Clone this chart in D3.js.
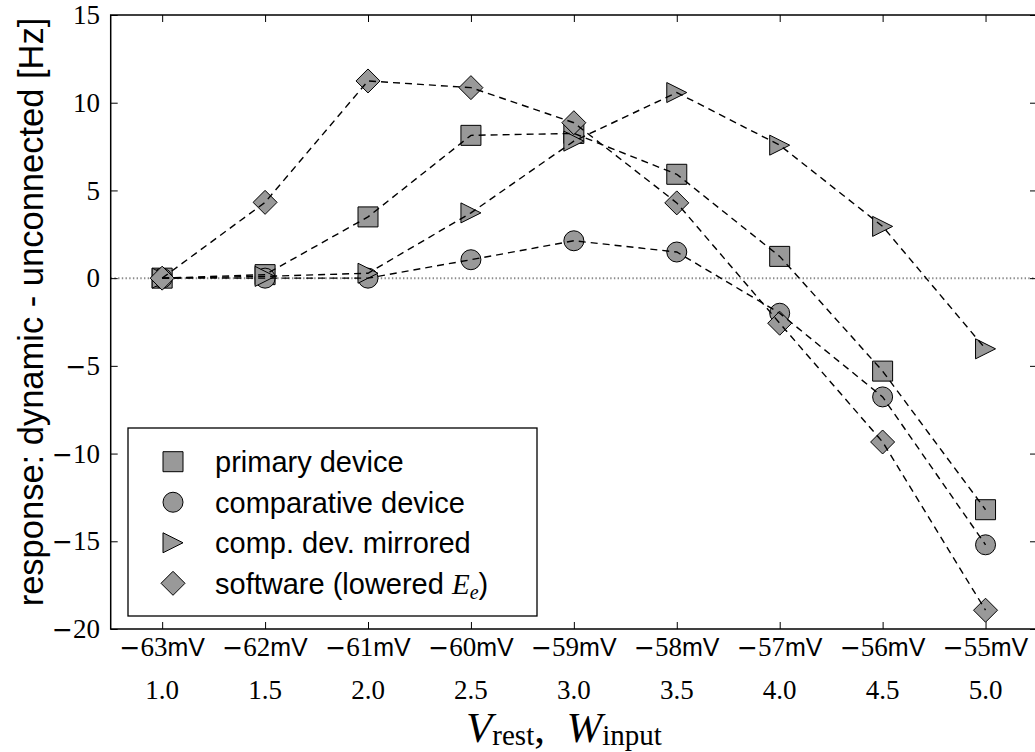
<!DOCTYPE html>
<html>
<head>
<meta charset="utf-8">
<script src="https://cdn.jsdelivr.net/npm/d3@7"></script>
<style>
  html, body { margin: 0; padding: 0; background: #fff; }
  svg { display: block; }
</style>
</head>
<body>
<svg id="chart" width="1035" height="752"></svg>
<script>
// Input weight and resting potential for each measurement point
const wInput = [1.0, 1.5, 2.0, 2.5, 3.0, 3.5, 4.0, 4.5, 5.0];
const vRest = [-63, -62, -61, -60, -59, -58, -57, -56, -55];
const wInputLabels = ["1.0", "1.5", "2.0", "2.5", "3.0", "3.5", "4.0", "4.5", "5.0"];
const yTicks = [-20, -15, -10, -5, 0, 5, 10, 15];

// Response difference (dynamic - unconnected) in Hz
const primaryDevice     = [0, 0.2, 3.49, 8.14, 8.25, 5.92, 1.24, -5.3, -13.2];
const comparativeDevice = [0, 0.0, 0.0, 1.05, 2.13, 1.49, -2.0, -6.77, -15.2];
const compDevMirrored   = [0, 0.1, 0.28, 3.72, 7.81, 10.58, 7.58, 2.95, -4.03];
const softwareLowered   = [0, 4.32, 11.24, 10.86, 8.86, 4.29, -2.57, -9.34, -18.93];

const seriesNames = ["primary device", "comparative device", "comp. dev. mirrored", "software"];
const seriesValues = [primaryDevice, comparativeDevice, compDevMirrored, softwareLowered];
const seriesShapes = ["square", "circle", "triangle", "diamond"];

const svg = d3.select("#chart");
const plotLeft = 110.7, plotRight = 1037, plotTop = 15, plotBottom = 629;

const x = d3.scaleLinear().domain([0.75, 5.25]).range([plotLeft, plotRight]);
const y = d3.scaleLinear().domain([-20, 15]).range([plotBottom, plotTop]);

const serif = "'Liberation Serif', 'Times New Roman', serif";
const minusFont = "'DejaVu Sans', sans-serif";
const sans = "'Liberation Sans', Arial, Helvetica, sans-serif";
const markerFill = "#999999";

function markerPath(shape) {
  switch (shape) {
    case "square": return "M-10,-10H10V10H-10Z";
    case "circle": return "M10,0A10,10 0 1,1 -10,0A10,10 0 1,1 10,0Z";
    case "triangle": return "M10,0L-10,-10L-10,10Z";
    case "diamond": return "M0,-12L12,0L0,12L-12,0Z";
  }
}

// zero reference line
svg.append("line")
  .attr("x1", plotLeft).attr("x2", plotRight)
  .attr("y1", y(0)).attr("y2", y(0))
  .attr("stroke", "#8c8c8c").attr("stroke-width", 2)
  .attr("stroke-dasharray", "1.4,2.3");

// markers
const plot = svg.append("g");
seriesValues.forEach((vals, i) => {
  plot.append("g").selectAll("path")
    .data(vals.map((v, j) => [wInput[j], v]))
    .join("path")
    .attr("transform", d => `translate(${x(d[0])},${y(d[1])})`)
    .attr("d", markerPath(seriesShapes[i]))
    .attr("fill", markerFill)
    .attr("stroke", "#000").attr("stroke-width", 1);
});

// dashed connecting lines drawn above the markers
const line = d3.line().x(d => x(d[0])).y(d => y(d[1]));
seriesValues.forEach(vals => {
  plot.append("path")
    .datum(vals.map((v, j) => [wInput[j], v]))
    .attr("d", line)
    .attr("fill", "none")
    .attr("stroke", "#000").attr("stroke-width", 1.4)
    .attr("stroke-dasharray", "7,5");
});

// axes frame
svg.append("rect")
  .attr("x", plotLeft).attr("y", plotTop)
  .attr("width", plotRight - plotLeft).attr("height", plotBottom - plotTop)
  .attr("fill", "none").attr("stroke", "#000").attr("stroke-width", 1.5);

const tickLen = 7;
const axBottom = d3.axisBottom(x).tickValues(wInput).tickSize(-tickLen).tickFormat("");
const axTop = d3.axisTop(x).tickValues(wInput).tickSize(-tickLen).tickFormat("");
const axLeft = d3.axisLeft(y).tickValues(yTicks).tickSize(-tickLen).tickFormat("");
const axRight = d3.axisRight(y).tickValues(yTicks).tickSize(-tickLen).tickFormat("");
[[axBottom, `translate(0,${plotBottom})`], [axTop, `translate(0,${plotTop})`],
 [axLeft, `translate(${plotLeft},0)`], [axRight, `translate(${plotRight},0)`]].forEach(([ax, tr]) => {
  const g = svg.append("g").attr("transform", tr).call(ax);
  g.select(".domain").remove();
  g.selectAll(".tick line").attr("stroke", "#000").attr("stroke-width", 1);
});

// y tick labels
const yLab = svg.append("g").selectAll("text")
  .data(yTicks)
  .join("text")
  .attr("x", 100).attr("y", d => y(d))
  .attr("dy", "0.34em")
  .attr("text-anchor", "end")
  .attr("font-family", serif).attr("font-size", 27);
yLab.filter(d => d < 0).append("tspan")
  .attr("font-family", minusFont).attr("font-size", 25).text("\u2212");
yLab.append("tspan").text(d => Math.abs(d));

// x tick labels: resting potential row
const vRow = svg.append("g").selectAll("text")
  .data(vRest.map((v, j) => [wInput[j], v]))
  .join("text")
  .attr("x", d => x(d[0])).attr("y", 656)
  .attr("text-anchor", "middle");
vRow.append("tspan").attr("font-family", minusFont).attr("font-size", 25).text("\u2212");
vRow.append("tspan").attr("font-family", serif).attr("font-size", 27)
  .text(d => Math.abs(d[1]));
vRow.append("tspan").attr("font-family", sans).attr("font-size", 25)
  .text("mV");

// x tick labels: input weight row
svg.append("g").selectAll("text")
  .data(wInput.map((w, j) => [w, wInputLabels[j]]))
  .join("text")
  .attr("x", d => x(d[0])).attr("y", 699)
  .attr("text-anchor", "middle")
  .attr("font-family", serif).attr("font-size", 27)
  .text(d => d[1]);

// x axis label
const xl = svg.append("text")
  .attr("x", 564).attr("y", 742)
  .attr("text-anchor", "middle")
  .attr("font-family", serif).attr("font-size", 43);
xl.append("tspan").attr("font-style", "italic").text("V");
xl.append("tspan").attr("font-size", 29).attr("dy", 3).text("rest");
xl.append("tspan").attr("dy", -3).text(",\u2002");
xl.append("tspan").attr("font-style", "italic").text("W");
xl.append("tspan").attr("font-size", 29).attr("dy", 3).text("input");

// y axis label
svg.append("text")
  .attr("transform", `translate(43,312) rotate(-90)`)
  .attr("text-anchor", "middle")
  .attr("font-family", sans).attr("font-size", 34.5)
  .text("response: dynamic - unconnected [Hz]");

// legend
const lg = svg.append("g");
lg.append("rect")
  .attr("x", 128).attr("y", 428).attr("width", 409).attr("height", 188)
  .attr("fill", "#fff").attr("stroke", "#000").attr("stroke-width", 1.3);
const rowY = d3.scalePoint().domain(seriesNames).range([461.7, 583.3]);
seriesNames.forEach((name, i) => {
  lg.append("path")
    .attr("transform", `translate(173,${rowY(name)})`)
    .attr("d", markerPath(seriesShapes[i]))
    .attr("fill", markerFill).attr("stroke", "#000").attr("stroke-width", 1);
  const t = lg.append("text")
    .attr("x", 215).attr("y", rowY(name)).attr("dy", "0.36em")
    .attr("font-family", sans).attr("font-size", 29);
  if (name === "software") {
    t.append("tspan").text("software (lowered ");
    t.append("tspan").attr("font-family", serif).attr("font-style", "italic").text("E");
    t.append("tspan").attr("font-family", serif).attr("font-style", "italic")
      .attr("font-size", 20).attr("dy", 5).text("e");
    t.append("tspan").attr("dy", -5).text(")");
  } else {
    t.text(name);
  }
});
</script>
</body>
</html>
